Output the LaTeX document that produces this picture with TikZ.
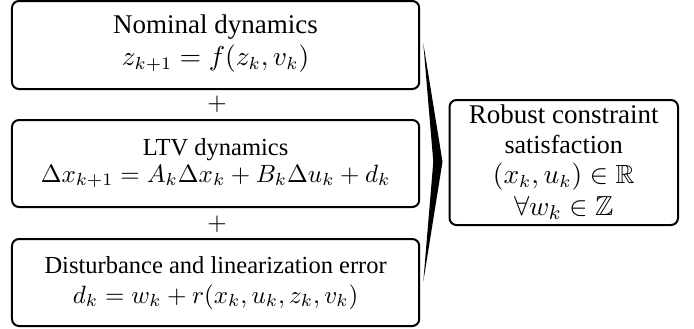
\documentclass[tikz,border=0pt]{standalone}
\usepackage{amssymb}
\usepackage{fontspec}
\setmainfont{Liberation Serif}
\newcommand{\fsz}[1]{\fontsize{#1}{1.2\dimexpr #1\relax}\selectfont}
\begin{document}
\begin{tikzpicture}[x=0.4pt,y=-0.4pt,
  box/.style={draw,line width=0.8pt,rounded corners=2.8pt,inner sep=0pt},
  txt/.style={anchor=base,inner sep=0pt}]
\useasboundingbox (0,0) rectangle (694,328);
% left boxes
\node[box,minimum width=162.9pt,minimum height=35.2pt] (b1) at (215.6,45) {};
\node[box,minimum width=162.9pt,minimum height=34.8pt] (b2) at (215.6,163.5) {};
\node[box,minimum width=162.9pt,minimum height=34.8pt] (b3) at (215.6,282.5) {};
\node[txt] (t1a) at (215.6,33) {\fsz{10.8pt}Nominal dynamics};
\node[txt] (t1b) at (215.6,65) {\fsz{10.7pt}$z_{k+1} = f(z_k, v_k)$};
\node[txt] (t2a) at (215.6,155) {\fsz{9.8pt}LTV dynamics};
\node[txt] (t2b) at (215.6,182) {\fsz{10pt}$\Delta x_{k+1} = A_k \Delta x_k + B_k \Delta u_k + d_k$};
\node[txt] (t3a) at (215.6,273) {\fsz{9.8pt}Disturbance and linearization error};
\node[txt] (t3b) at (215.6,303) {\fsz{10.1pt}$d_k = w_k + r(x_k, u_k, z_k, v_k)$};
\node (p1) at (217,104) {$+$};
\node (p2) at (217,224) {$+$};
% chevron
\coordinate (c1) at (423.3,43.3);
\coordinate (c2) at (442.5,161.7);
\coordinate (c3) at (423.3,281.7);
\coordinate (c4) at (433.3,161.7);
\fill (c1) -- (c2) -- (c3) -- (c4) -- cycle;
% right box
\node[box,minimum width=91.4pt,minimum height=50pt] (r) at (563.75,162.5) {};
\node[txt] (ra) at (563.75,123) {\fsz{10.8pt}Robust constraint};
\node[txt] (rb) at (563.75,153) {\fsz{10.4pt}satisfaction};
\node[txt] (rc) at (563.75,183) {\fsz{10.5pt}$(x_k, u_k) \in \mathbb{R}$};
\node[txt] (rd) at (563.75,215) {\fsz{11pt}$\forall w_k \in \mathbb{Z}$};
\end{tikzpicture}
\end{document}
